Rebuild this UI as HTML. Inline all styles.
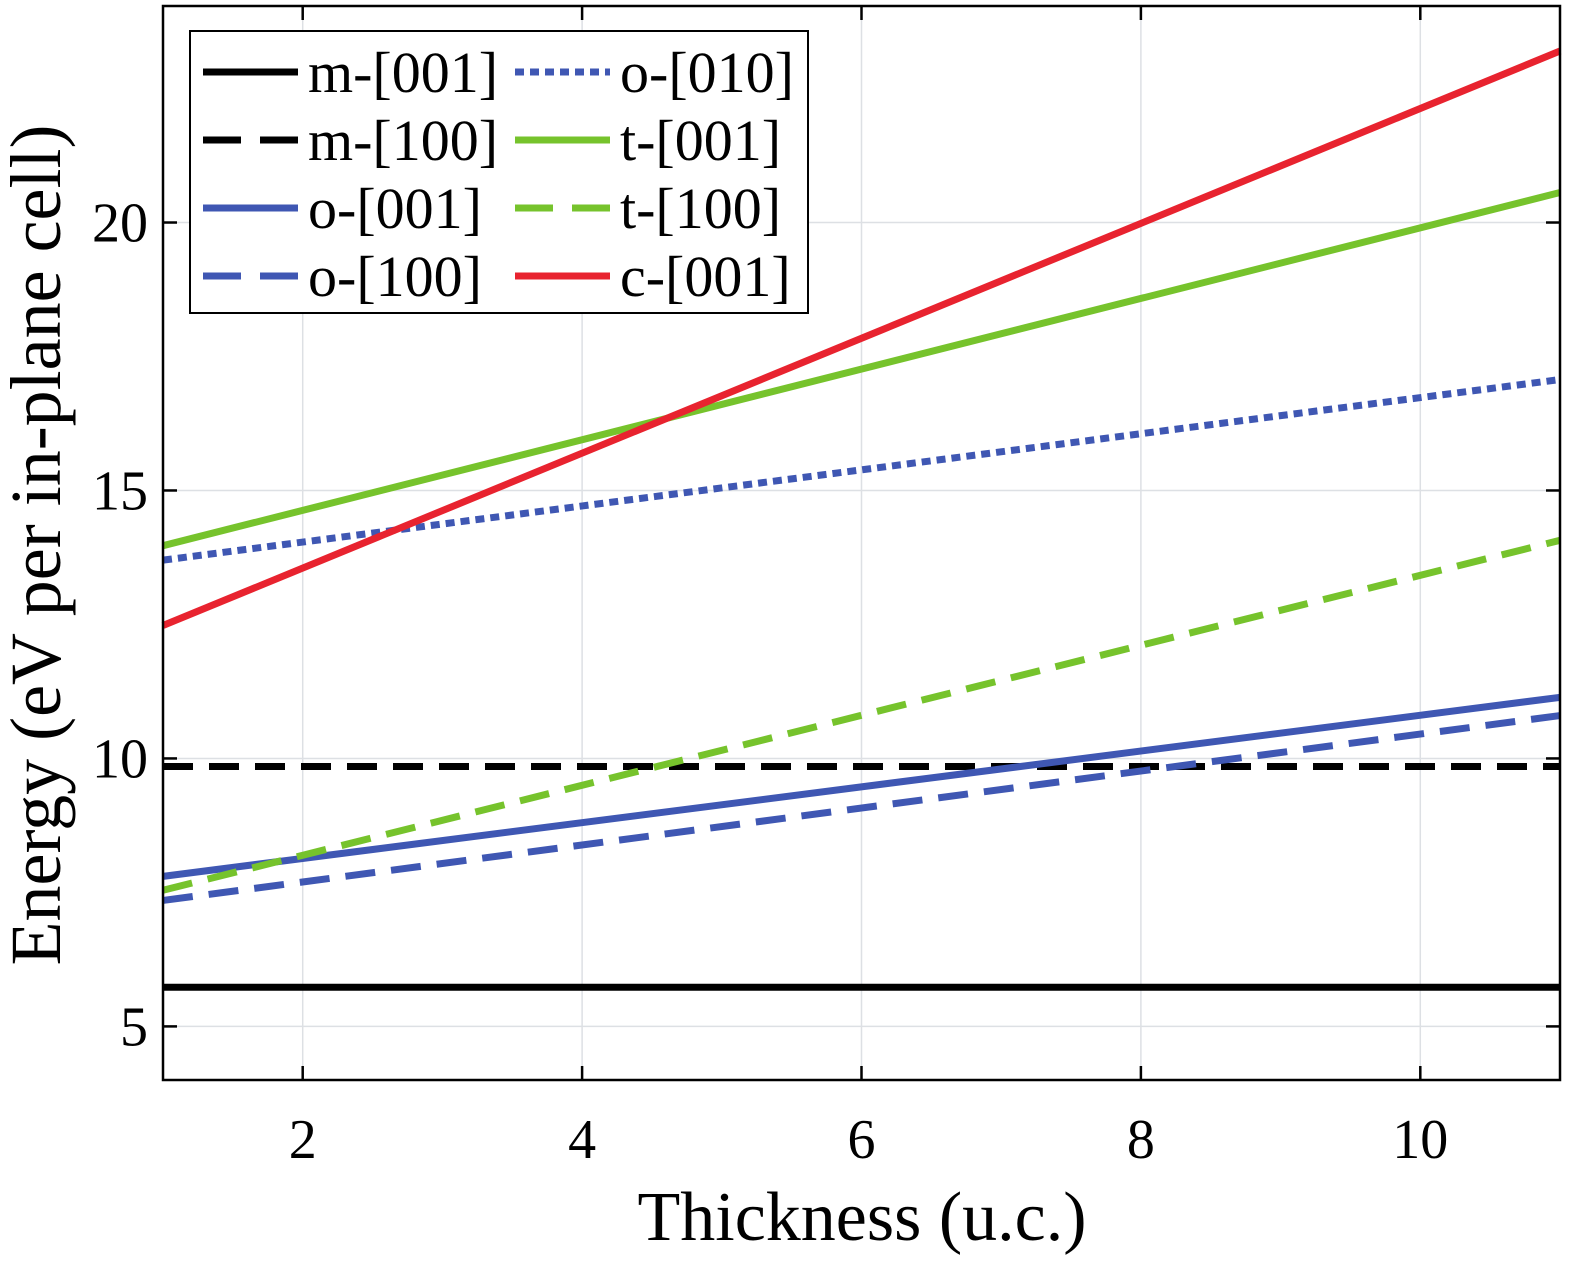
<!DOCTYPE html>
<html><head><meta charset="utf-8"><style>
html,body{margin:0;padding:0;background:#fff;}
svg{display:block;font-family:"Liberation Serif",serif;}
</style></head><body>
<svg id="chart" width="1575" height="1267">
<g id="grid"></g>
<g id="series"></g>
<rect x="163" y="6" width="1397" height="1074" fill="none" stroke="#000" stroke-width="2.5"/>
<g id="ticks"></g>
<text x="862" y="1240" font-size="70" text-anchor="middle">Thickness (u.c.)</text>
<text transform="translate(60,545) rotate(-90)" font-size="72" text-anchor="middle">Energy (eV per in-plane cell)</text>
<g id="legend"></g>
</svg>
<script>
const xTicks = [2,4,6,8,10];
const yTicks = [5,10,15,20];
const seriesNames = ["m-[001]","m-[100]","o-[001]","o-[100]","o-[010]","t-[001]","t-[100]","c-[001]"];
const thickness = [1,11];
const mOO1 = [5.73,5.73];
const m100 = [9.85,9.85];
const oOO1 = [7.8,11.14];
const o100 = [7.35,10.8];
const o010 = [13.7,17.07];
const tOO1 = [13.97,20.56];
const t100 = [7.54,14.07];
const cOO1 = [12.48,23.2];
const seriesValues = [mOO1,m100,oOO1,o100,o010,tOO1,t100,cOO1];
const colors = ["#000","#000","#3f57b3","#3f57b3","#3f57b3","#76c32c","#76c32c","#e8232f"];
const dashes = ["", "30 16", "", "30 16", "9 6", "", "30 16", ""];
const NS="http://www.w3.org/2000/svg";
const X0=163,X1=1560,Y0=6,Y1=1080;
const xMin=1,xMax=11,yMin=4,yMax=24.04;
const sx=v=>X0+(v-xMin)/(xMax-xMin)*(X1-X0);
const sy=v=>Y1-(v-yMin)/(yMax-yMin)*(Y1-Y0);
function mk(tag,attrs,parent){const e=document.createElementNS(NS,tag);for(const k in attrs)e.setAttribute(k,attrs[k]);parent.appendChild(e);return e;}
const grid=document.getElementById('grid'),ticks=document.getElementById('ticks'),ser=document.getElementById('series'),leg=document.getElementById('legend');
xTicks.forEach(t=>{
 const g=mk('line',{x1:sx(t),x2:sx(t),y1:Y0,y2:Y1,stroke:'#dde0e4','stroke-width':1.5},grid);
 
 
 mk('line',{x1:sx(t),x2:sx(t),y1:Y1,y2:Y1-14,stroke:'#000','stroke-width':2.5},ticks);
 mk('line',{x1:sx(t),x2:sx(t),y1:Y0,y2:Y0+14,stroke:'#000','stroke-width':2.5},ticks);
 const l=mk('text',{x:sx(t),y:1158,'font-size':56,'text-anchor':'middle'},ticks);l.textContent=t;
 
 
});
yTicks.forEach(t=>{
 const g=mk('line',{x1:X0,x2:X1,y1:sy(t),y2:sy(t),stroke:'#dde0e4','stroke-width':1.5},grid);
 
 
 mk('line',{x1:X0,x2:X0+14,y1:sy(t),y2:sy(t),stroke:'#000','stroke-width':2.5},ticks);
 mk('line',{x1:X1,x2:X1-14,y1:sy(t),y2:sy(t),stroke:'#000','stroke-width':2.5},ticks);
 const l=mk('text',{x:148,y:sy(t)+19,'font-size':56,'text-anchor':'end'},ticks);l.textContent=t;
 
 
});
seriesValues.forEach((vals,i)=>{
 const pts=vals.map((v,j)=>sx(thickness[j])+','+sy(v)).join(' ');
 const p=mk('polyline',{points:pts,fill:'none',stroke:colors[i],'stroke-width':7},ser);
 if(dashes[i])p.setAttribute('stroke-dasharray',dashes[i]);
 
 
});
const box=mk('rect',{x:190,y:31,width:618,height:282,fill:'#fff',stroke:'#000','stroke-width':2},leg);


const order=[[0,1,2,3],[4,5,6,7]];
order.forEach((col,c)=>{
 col.forEach((si,r)=>{
  const y=72+r*68, lx=c?515:203;
  const g=mk('g',{},leg);
  
  
  const ln=mk('line',{x1:lx,x2:lx+95,y1:y,y2:y,stroke:colors[si],'stroke-width':7},g);
  if(dashes[si])ln.setAttribute('stroke-dasharray',si===4?'9 6':'38 19');
  const t=mk('text',{x:lx+105,y:y+20,'font-size':58},g);t.textContent=seriesNames[si];
 });
});
</script>
</body></html>
